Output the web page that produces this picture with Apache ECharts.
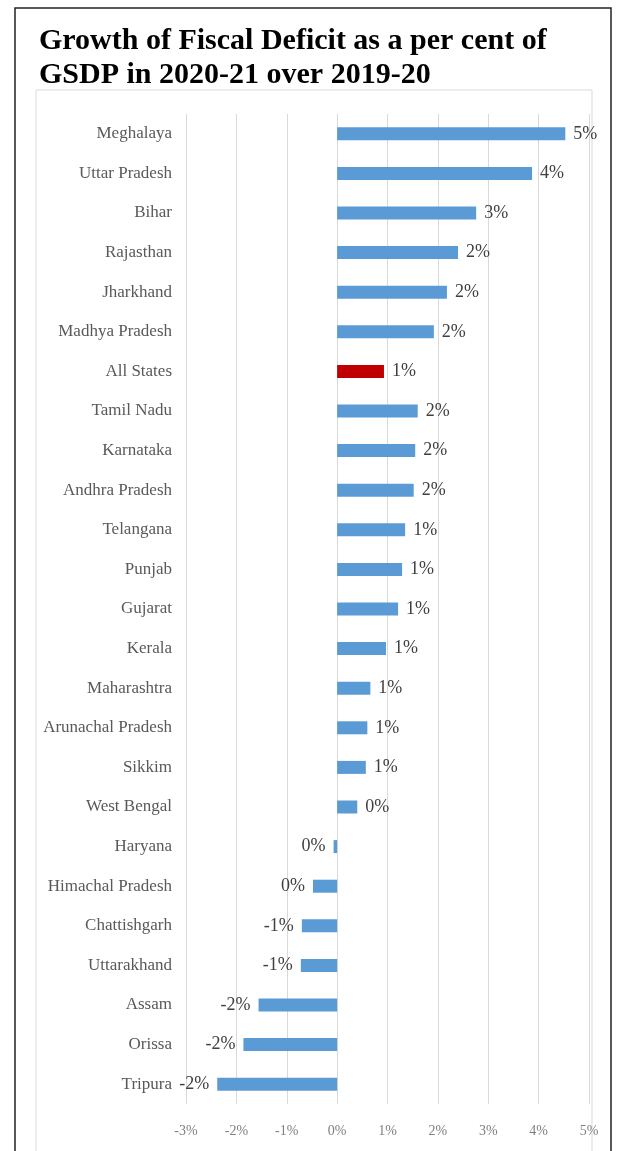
<!DOCTYPE html>
<html>
<head>
<meta charset="utf-8">
<script src="https://cdn.jsdelivr.net/npm/echarts@6/dist/echarts.min.js"></script>
<style>
  html, body { margin: 0; padding: 0; background: #fff; }
  #chart { width: 617px; height: 1151px; }
</style>
</head>
<body>
<div id="chart"></div>
<script>
// states, top to bottom
const states = [
  'Meghalaya', 'Uttar Pradesh', 'Bihar', 'Rajasthan', 'Jharkhand', 'Madhya Pradesh',
  'All States', 'Tamil Nadu', 'Karnataka', 'Andhra Pradesh', 'Telangana', 'Punjab',
  'Gujarat', 'Kerala', 'Maharashtra', 'Arunachal Pradesh', 'Sikkim', 'West Bengal',
  'Haryana', 'Himachal Pradesh', 'Chattishgarh', 'Uttarakhand', 'Assam', 'Orissa', 'Tripura'
]
// growth in percentage points
const growth = [
  4.53, 3.87, 2.76, 2.40, 2.18, 1.92,
  0.93, 1.60, 1.55, 1.52, 1.35, 1.29,
  1.21, 0.97, 0.66, 0.60, 0.57, 0.40,
  -0.07, -0.48, -0.70, -0.72, -1.56, -1.86, -2.38
]
const highlight = 'All States'
const xTicks = [-3, -2, -1, 0, 1, 2, 3, 4, 5]

const blue = '#5b9bd5'
const red = '#c00000'
const serif = '"Liberation Serif", "DejaVu Serif", serif'

const myChart = echarts.init(document.getElementById('chart'))

const barData = growth.map((v, i) => ({
  value: v,
  itemStyle: { color: states[i] === highlight ? red : blue },
  label: { position: v < 0 ? 'left' : 'right' }
}))

const option = {
  backgroundColor: '#fff',
  animation: false,
  title: {
    text: 'Growth of Fiscal Deficit as a per cent of\nGSDP in 2020-21 over 2019-20',
    left: 34,
    top: 19,
    textStyle: {
      fontFamily: serif,
      fontWeight: 'bold',
      fontSize: 30,
      lineHeight: 34,
      color: '#000'
    }
  },
  graphic: [
    // outer frame
    { type: 'rect', shape: { x: 15, y: 8, width: 596, height: 1160 },
      style: { fill: 'none', stroke: '#222', lineWidth: 1.5 }, silent: true },
    // chart area frame
    { type: 'rect', shape: { x: 36, y: 90, width: 556, height: 1080 },
      style: { fill: 'none', stroke: '#d9d9d9', lineWidth: 1 }, silent: true }
  ],
  grid: {
    left: 186,
    right: 28,
    top: 114,
    height: 990
  },
  xAxis: {
    type: 'value',
    min: xTicks[0],
    max: xTicks[xTicks.length - 1],
    interval: 1,
    axisLine: { show: false },
    axisTick: { show: false },
    splitLine: { lineStyle: { color: '#d9d9d9', width: 1 } },
    axisLabel: {
      formatter: v => v + '%',
      fontFamily: serif,
      fontSize: 14,
      color: '#7f7f7f',
      margin: 20
    }
  },
  yAxis: {
    type: 'category',
    data: states,
    inverse: true,
    axisLine: { show: false },
    axisTick: { show: false },
    axisLabel: {
      fontFamily: serif,
      fontSize: 17,
      color: '#595959',
      margin: 14
    }
  },
  series: [
    {
      type: 'bar',
      data: barData,
      barWidth: 13,
      label: {
        show: true,
        distance: 8,
        formatter: p => Math.round(p.value) + '%',
        fontFamily: serif,
        fontSize: 18,
        color: '#404040'
      }
    }
  ]
}

myChart.setOption(option)
window.addEventListener('resize', () => myChart.resize())
</script>
</body>
</html>
